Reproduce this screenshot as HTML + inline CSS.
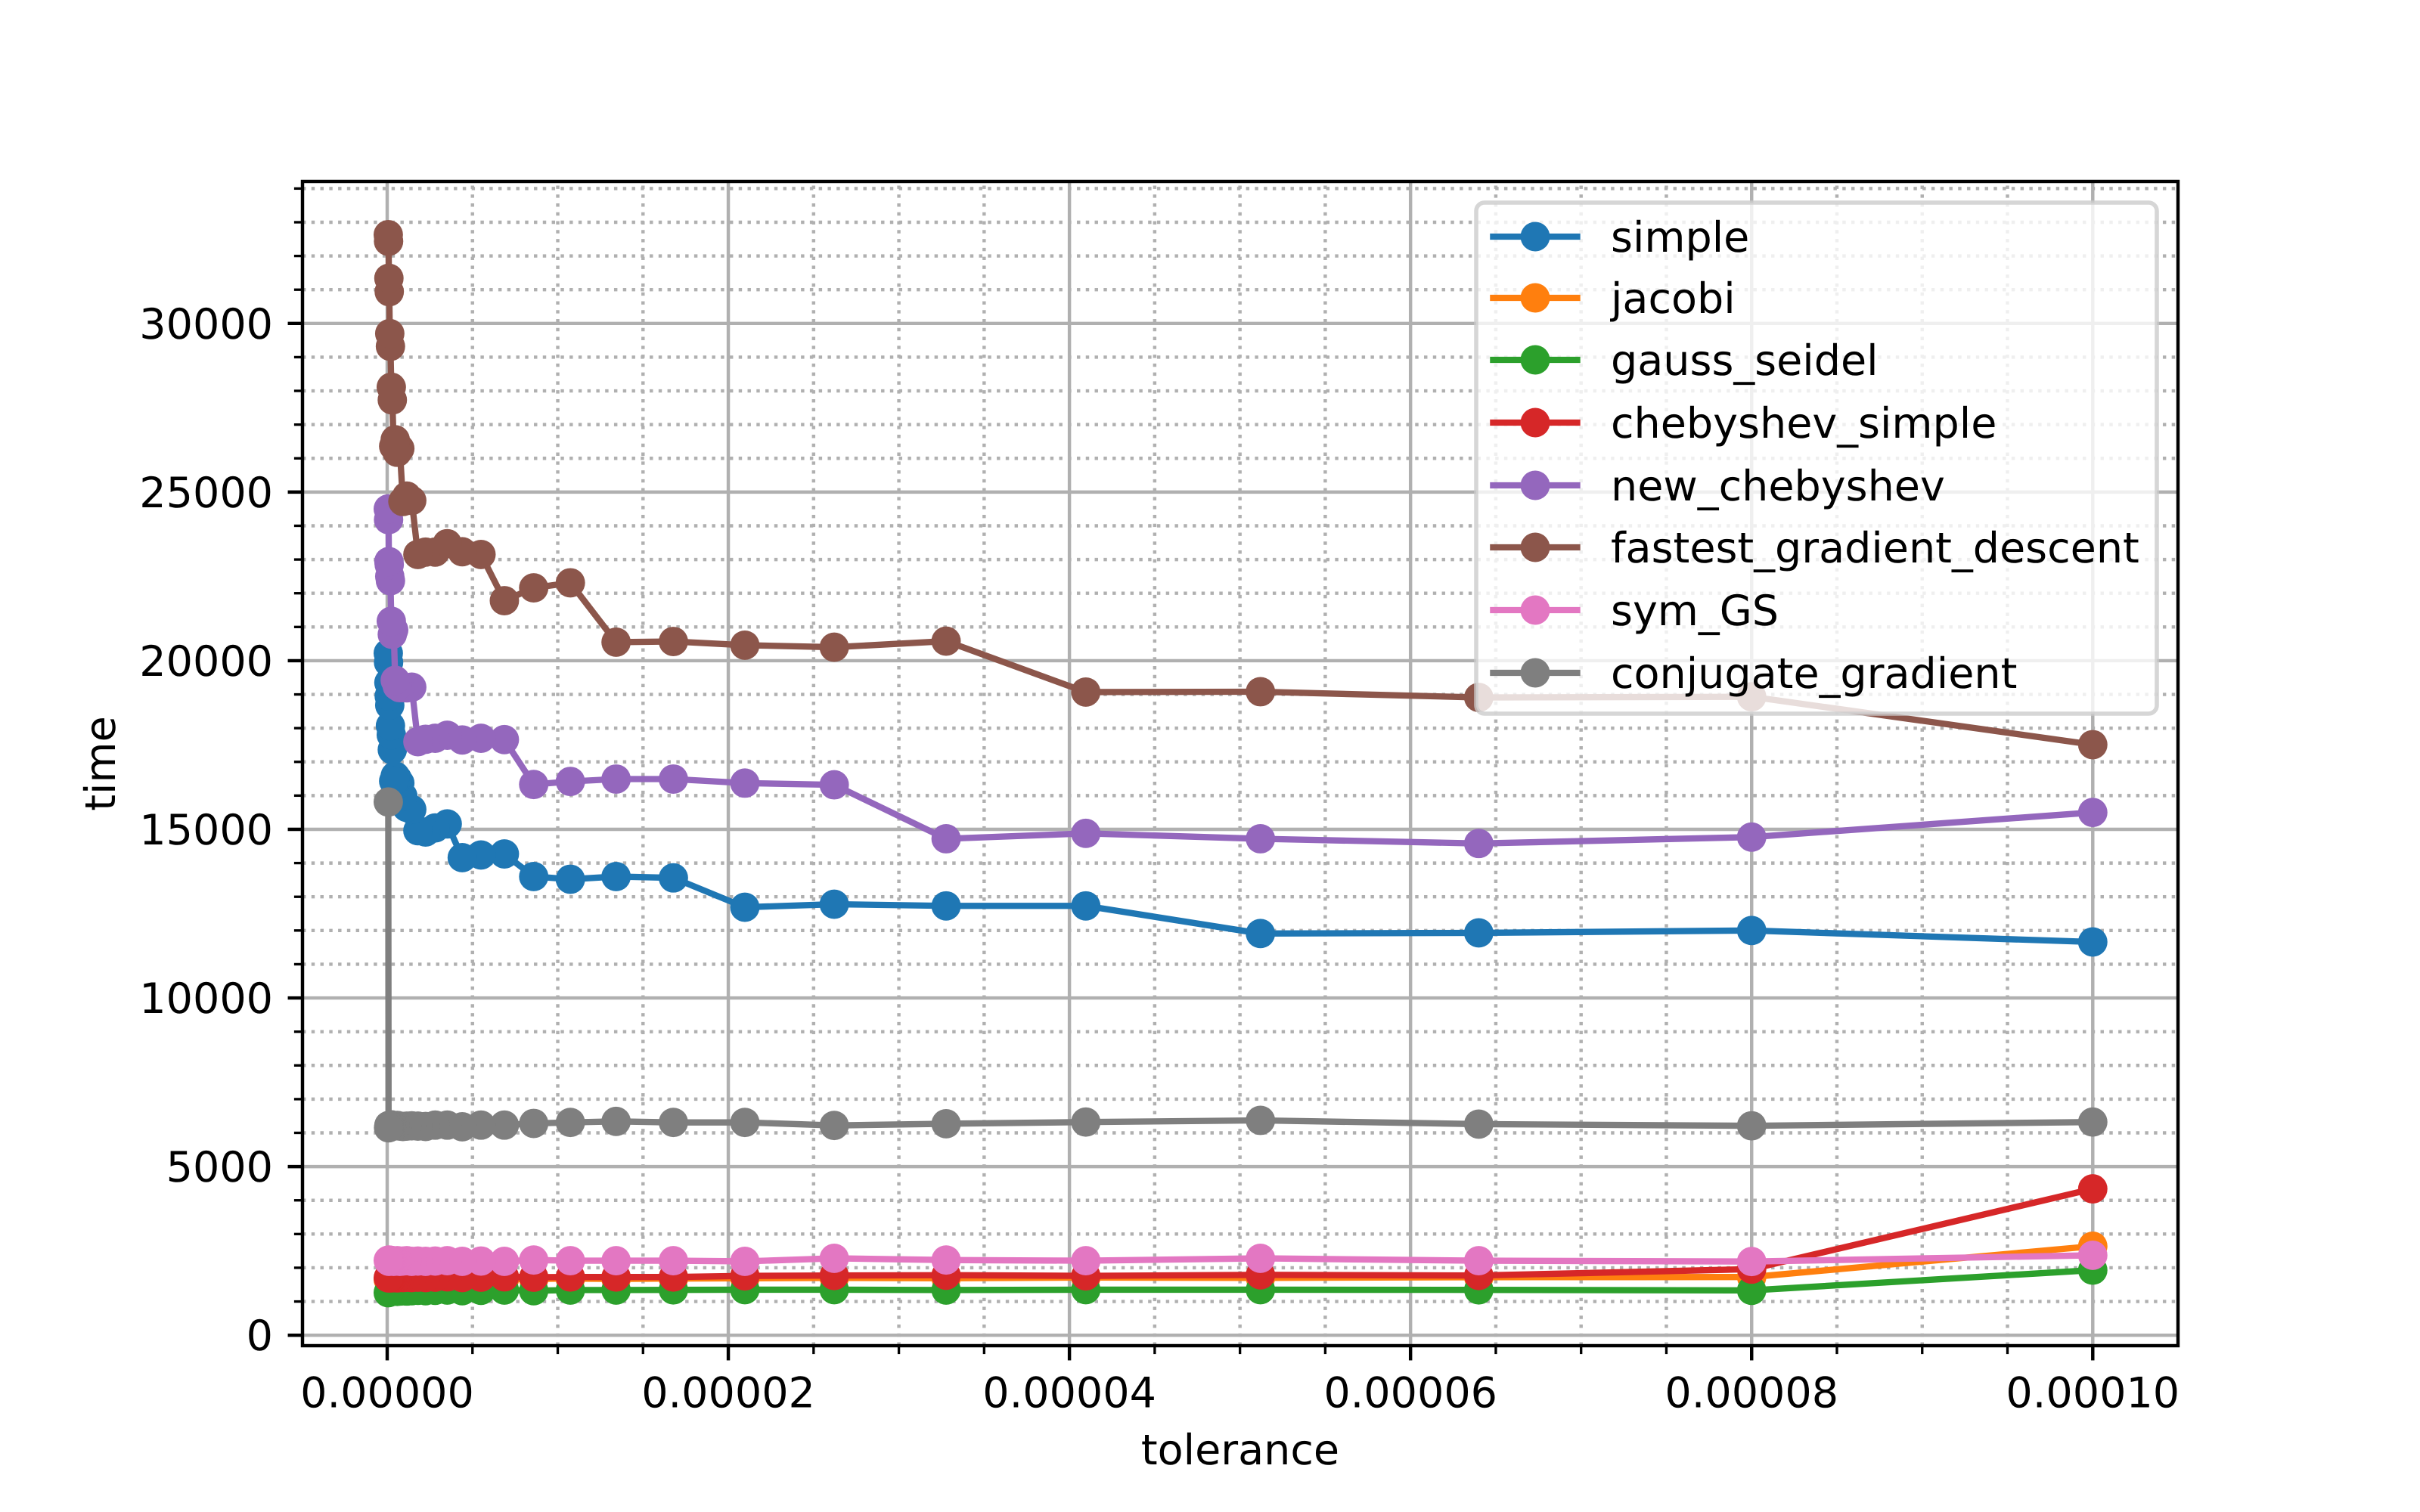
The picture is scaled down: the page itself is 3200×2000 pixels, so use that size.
<!DOCTYPE html>
<html lang="en">
<head>
<meta charset="utf-8">
<title>Solver time vs tolerance</title>
<style>
html,body{margin:0;padding:0;background:#fff;}
svg{display:block;}
text{font-family:"DejaVu Sans","Liberation Sans",sans-serif;font-size:55.56px;fill:#000;text-rendering:geometricPrecision;}
</style>
</head>
<body>
<svg id="chart" xmlns="http://www.w3.org/2000/svg" width="3200" height="2000" viewBox="0 0 3200 2000">
  <rect x="0" y="0" width="3200" height="2000" fill="#ffffff"/>
  <g id="grid"></g>
  <g id="marks"></g>
  <g id="ticks"></g>
  <rect x="400" y="240" width="2480" height="1540" fill="none" stroke="#000" stroke-width="4.44"/>
  <text x="1640" y="1937" text-anchor="middle">tolerance</text>
  <text x="152" y="1010" text-anchor="middle" transform="rotate(-90 152 1010)">time</text>
  <g>
    <rect x="1952" y="268" width="900" height="676" rx="11" ry="11" fill="#fff" fill-opacity="0.8" stroke="#ccc" stroke-opacity="0.8" stroke-width="5.56"/>
    <g><line x1="1974.4" x2="2085.5" y1="313" y2="313" stroke="#1f77b4" stroke-width="8.33" stroke-linecap="square"/><circle cx="2030" cy="313" r="19.44" fill="#1f77b4"/><text x="2130" y="333">simple</text></g>
    <g><line x1="1974.4" x2="2085.5" y1="394" y2="394" stroke="#ff7f0e" stroke-width="8.33" stroke-linecap="square"/><circle cx="2030" cy="394" r="19.44" fill="#ff7f0e"/><text x="2130" y="414">jacobi</text></g>
    <g><line x1="1974.4" x2="2085.5" y1="476" y2="476" stroke="#2ca02c" stroke-width="8.33" stroke-linecap="square"/><circle cx="2030" cy="476" r="19.44" fill="#2ca02c"/><text x="2130" y="496">gauss_seidel</text></g>
    <g><line x1="1974.4" x2="2085.5" y1="559" y2="559" stroke="#d62728" stroke-width="8.33" stroke-linecap="square"/><circle cx="2030" cy="559" r="19.44" fill="#d62728"/><text x="2130" y="579">chebyshev_simple</text></g>
    <g><line x1="1974.4" x2="2085.5" y1="642" y2="642" stroke="#9467bd" stroke-width="8.33" stroke-linecap="square"/><circle cx="2030" cy="642" r="19.44" fill="#9467bd"/><text x="2130" y="662">new_chebyshev</text></g>
    <g><line x1="1974.4" x2="2085.5" y1="724" y2="724" stroke="#8c564b" stroke-width="8.33" stroke-linecap="square"/><circle cx="2030" cy="724" r="19.44" fill="#8c564b"/><text x="2130" y="744">fastest_gradient_descent</text></g>
    <g><line x1="1974.4" x2="2085.5" y1="807" y2="807" stroke="#e377c2" stroke-width="8.33" stroke-linecap="square"/><circle cx="2030" cy="807" r="19.44" fill="#e377c2"/><text x="2130" y="827">sym_GS</text></g>
    <g><line x1="1974.4" x2="2085.5" y1="890" y2="890" stroke="#7f7f7f" stroke-width="8.33" stroke-linecap="square"/><circle cx="2030" cy="890" r="19.44" fill="#7f7f7f"/><text x="2130" y="910">conjugate_gradient</text></g>
  </g>
</svg>
<script>
const tolerance = [1e-4,8e-5,6.4e-5,5.12e-5,4.096e-5,3.277e-5,2.621e-5,2.097e-5,1.678e-5,1.342e-5,1.074e-5,8.59e-6,6.87e-6,5.5e-6,4.4e-6,3.52e-6,2.81e-6,2.25e-6,1.8e-6,1.44e-6,1.15e-6,9.2e-7,7.4e-7,5.9e-7,4.7e-7,3.8e-7,3e-7,2.4e-7,1.9e-7,1.5e-7,1.2e-7,1e-7,8e-8,6.3e-8];
const simple = [11660,12000,11930,11910,12730,12730,12780,12690,13560,13600,13520,13600,14270,14240,14160,15160,15040,14920,14960,15590,15650,15980,16370,16500,16580,16430,17360,17800,18070,18680,18950,19350,19950,20220];
const jacobi = [2640,1726,1720,1700,1710,1690,1700,1690,1680,1670,1680,1670,1660,1680,1670,1660,1670,1650,1660,1670,1660,1670,1650,1660,1670,1650,1660,1670,1650,1660,1670,1650,1660,1650];
const gaussSeidel = [1930,1330,1345,1350,1350,1340,1350,1350,1345,1340,1340,1320,1340,1330,1320,1340,1330,1320,1330,1320,1310,1320,1310,1300,1310,1320,1300,1310,1300,1310,1300,1290,1280,1260];
const chebyshevSimple = [4340,1960,1770,1790,1760,1780,1770,1760,1725,1725,1725,1720,1730,1720,1710,1730,1720,1710,1720,1710,1720,1710,1720,1700,1710,1720,1710,1700,1720,1710,1700,1710,1720,1700];
const newChebyshev = [15500,14770,14580,14720,14880,14720,16320,16370,16490,16490,16420,16330,17660,17700,17650,17790,17700,17670,17600,19215,19195,19200,19200,19250,19420,20910,20780,21170,22370,22500,22850,22940,24180,24500];
const fastestGradientDescent = [17510,18930,18910,19080,19070,20580,20400,20460,20570,20550,22310,22160,21780,23150,23230,23470,23220,23220,23150,24750,24880,24720,26290,26180,26550,26360,27730,28110,29320,29700,30940,31340,32436,32630];
const symGS = [2370,2185,2210,2280,2210,2230,2280,2190,2210,2210,2210,2230,2190,2200,2190,2210,2200,2190,2200,2190,2210,2200,2190,2210,2200,2190,2200,2220,2200,2210,2190,2230,2200,2220];
const conjugateGradient = [6320,6210,6260,6370,6320,6270,6220,6310,6310,6340,6310,6280,6230,6230,6180,6230,6230,6190,6200,6210,6200,6190,6200,6220,6210,6200,6220,6240,6210,6200,6180,6220,6150,15810];

const xMajorTicks = [0,2e-5,4e-5,6e-5,8e-5,1e-4];
const xMajorLabels = ["0.00000","0.00002","0.00004","0.00006","0.00008","0.00010"];
const xMinorTicks = [5e-6,1e-5,1.5e-5,2.5e-5,3e-5,3.5e-5,4.5e-5,5e-5,5.5e-5,6.5e-5,7e-5,7.5e-5,8.5e-5,9e-5,9.5e-5];
const yMajorTicks = [0,5000,10000,15000,20000,25000,30000];
const yMajorLabels = ["0","5000","10000","15000","20000","25000","30000"];
const yMinorTicks = [1000,2000,3000,4000,6000,7000,8000,9000,11000,12000,13000,14000,16000,17000,18000,19000,21000,22000,23000,24000,26000,27000,28000,29000,31000,32000,33000,34000];

const seriesNames = ["simple","jacobi","gauss-seidel","chebyshev-simple","new-chebyshev","fastest-gradient-descent","sym-gs","conjugate-gradient"];
const seriesColors = ["#1f77b4","#ff7f0e","#2ca02c","#d62728","#9467bd","#8c564b","#e377c2","#7f7f7f"];
const seriesValues = [simple,jacobi,gaussSeidel,chebyshevSimple,newChebyshev,fastestGradientDescent,symGS,conjugateGradient];

const NS = "http://www.w3.org/2000/svg";
const plotLeft = 400, plotRight = 2880, plotTop = 240, plotBottom = 1780;
const xDomainMin = -4.966e-6, xDomainMax = 1.04998e-4;
const yDomainMin = -310, yDomainMax = 34210;

function xScale(v){
  return plotLeft + (v - xDomainMin) / (xDomainMax - xDomainMin) * (plotRight - plotLeft);
}
function yScale(v){
  return plotBottom - (v - yDomainMin) / (yDomainMax - yDomainMin) * (plotBottom - plotTop);
}
function makeLine(parent, x1, y1, x2, y2, stroke, width, dash){
  const el = document.createElementNS(NS, "line");
  el.setAttribute("x1", x1);
  el.setAttribute("y1", y1);
  el.setAttribute("x2", x2);
  el.setAttribute("y2", y2);
  el.setAttribute("stroke", stroke);
  el.setAttribute("stroke-width", width);
  if (dash) el.setAttribute("stroke-dasharray", dash);
  parent.appendChild(el);
  return el;
}

const gridGroup = document.getElementById("grid");
const tickGroup = document.getElementById("ticks");
const marksGroup = document.getElementById("marks");
const DOT = "4.44 7.33";

yMinorTicks.forEach(function(v){
  const y = yScale(v);
  const g = makeLine(gridGroup, plotLeft, y, plotRight, y, "#b0b0b0", 4.44, DOT);
  
  
  const t = makeLine(tickGroup, plotLeft, y, plotLeft - 11.1, y, "#000", 3.33);
  
  
});
xMinorTicks.forEach(function(v){
  const x = xScale(v);
  const g = makeLine(gridGroup, x, plotBottom, x, plotTop, "#b0b0b0", 4.44, DOT);
  
  
  const t = makeLine(tickGroup, x, plotBottom, x, plotBottom + 11.1, "#000", 3.33);
  
  
});
yMajorTicks.forEach(function(v, i){
  const y = yScale(v);
  const g = makeLine(gridGroup, plotLeft, y, plotRight, y, "#b0b0b0", 4.44);
  
  
  const t = makeLine(tickGroup, plotLeft, y, plotLeft - 19.44, y, "#000", 4.44);
  
  
  const label = document.createElementNS(NS, "text");
  
  
  label.setAttribute("x", 361);
  label.setAttribute("y", y + 20);
  label.setAttribute("text-anchor", "end");
  label.textContent = yMajorLabels[i];
  tickGroup.appendChild(label);
});
xMajorTicks.forEach(function(v, i){
  const x = xScale(v);
  const g = makeLine(gridGroup, x, plotBottom, x, plotTop, "#b0b0b0", 4.44);
  
  
  const t = makeLine(tickGroup, x, plotBottom, x, plotBottom + 19.44, "#000", 4.44);
  
  
  const label = document.createElementNS(NS, "text");
  
  
  label.setAttribute("x", x);
  label.setAttribute("y", 1861.5);
  label.setAttribute("text-anchor", "middle");
  label.textContent = xMajorLabels[i];
  tickGroup.appendChild(label);
});

seriesValues.forEach(function(values, s){
  const group = document.createElementNS(NS, "g");
  
  
  const path = document.createElementNS(NS, "polyline");
  
  
  path.setAttribute("points", values.map(function(v, i){
    return xScale(tolerance[i]).toFixed(2) + "," + yScale(v).toFixed(2);
  }).join(" "));
  path.setAttribute("fill", "none");
  path.setAttribute("stroke", seriesColors[s]);
  path.setAttribute("stroke-width", 8.33);
  path.setAttribute("stroke-linejoin", "round");
  group.appendChild(path);
  values.forEach(function(v, i){
    const dot = document.createElementNS(NS, "circle");
    
    
    dot.setAttribute("cx", xScale(tolerance[i]).toFixed(2));
    dot.setAttribute("cy", yScale(v).toFixed(2));
    dot.setAttribute("r", 19.44);
    dot.setAttribute("fill", seriesColors[s]);
    group.appendChild(dot);
  });
  marksGroup.appendChild(group);
});
</script>
</body>
</html>
